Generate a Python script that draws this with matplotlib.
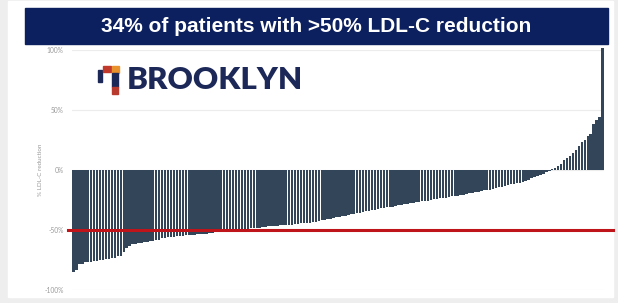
import matplotlib.pyplot as plt
from matplotlib.patches import Rectangle

# % LDL-C change per patient, sorted
ldl_change = [
    -85, -83, -78, -78, -77, -77, -77, -76, -76, -75, -75, -74, -74, -73, -73, -72, -72,
    -68, -65, -63,
    -62, -62, -61, -61, -60, -60, -59, -59,
    -58, -58, -57, -57, -56, -56, -56, -55,
    -55, -55, -54.5, -54.5, -54, -54, -53.5, -53.5, -53, -53, -52.5, -52.5, -52,
    -52, -51.5, -51.5, -51, -51, -50.5, -50.5, -50, -49.5, -49,
    -49, -48.5, -48.5, -48, -48, -47.5, -47.5, -47, -47, -46.5, -46.5, -46, -46,
    -46, -45.5, -45.5, -45, -45, -44.5, -44.5, -44, -44, -43.5,
    -43, -42.5, -42, -41.5, -41, -40.5, -40, -39.5, -39, -38.5, -38, -37.5, -37, -36.5, -36, -35.5,
    -35, -34.5, -34, -33.5, -33, -32.5, -32, -31.5, -31, -30.5, -30.5,
    -30, -29.5, -29, -28.5, -28, -27.5, -27.5, -27, -26.5, -26, -26,
    -25.5, -25, -24.5, -24, -23.5, -23, -23, -22.5, -22, -22, -21.5,
    -21, -20.5, -20, -19.5, -19, -18.5, -18, -17.5, -17, -17, -16.5,
    -16, -15, -14.5, -14, -13, -12.5, -12, -11.5, -11, -10.5, -10,
    -9, -8, -7, -6, -5, -4, -3, -2, -1,
    1, 2, 3, 5, 8, 10, 12, 14, 17, 20, 23, 25, 28, 30, 38, 42, 44, 102,
]
threshold = -50
yticks = [-100, -50, 0, 50, 100]
ytick_labels = ['-100%', '-50%', '0%', '50%', '100%']
title = '34% of patients with >50% LDL-C reduction'

W, H = 618, 303
fig = plt.figure(figsize=(W / 100, H / 100), dpi=100, facecolor='#eeeeee')

def px(x0, y0, x1, y1):
    # pixel box (top-left origin) -> figure fraction rect
    return (x0 / W, 1 - y1 / H, (x1 - x0) / W, (y1 - y0) / H)

# white slide panel
p = px(8, 1, 613, 297)
fig.patches.append(Rectangle(p[:2], p[2], p[3], transform=fig.transFigure,
                             color='white', zorder=-5))

# title banner
b = px(25, 8, 608, 44)
fig.patches.append(Rectangle(b[:2], b[2], b[3], transform=fig.transFigure,
                             color='#0c1f5e', zorder=1))
fig.text(316.5 / W, 1 - 26 / H, title, color='white', fontsize=15,
         fontweight='bold', fontfamily='Liberation Sans', ha='center',
         va='center', zorder=2)

ax = fig.add_axes(px(72, 50, 604, 290), zorder=0)
x = range(len(ldl_change))
ax.bar(x, ldl_change, width=0.82, color='#324559', linewidth=0, clip_on=False, zorder=2)
ax.plot([-1.8, len(ldl_change) + 2.5], [threshold, threshold], color='#c0141b',
        lw=2.2, clip_on=False, zorder=3)

ax.set_xlim(-0.5, len(ldl_change) - 0.5)
ax.set_ylim(-100, 100)
ax.set_yticks(yticks)
ax.set_yticklabels(ytick_labels, fontsize=4.8, color='#9a9a9a', fontfamily='Lato')
ax.set_xticks([])
ax.tick_params(axis='y', length=0, pad=6)
ax.grid(axis='y', color='#ececec', lw=0.8, zorder=0)
ax.set_axisbelow(True)
for s in ax.spines.values():
    s.set_visible(False)
ax.set_facecolor('none')
fig.text(40 / W, 1 - 170 / H, '% LDL-C reduction', rotation=90, fontsize=4.5,
         color='#9a9a9a', ha='center', va='center', fontfamily='Lato')

# Brooklyn logo
navy = '#1c2858'
icon = [
    (98, 70, 102, 82, navy),
    (103, 66, 111, 72, '#c0392b'),
    (112, 66, 119, 73, '#e8912d'),
    (112, 73, 118, 87, navy),
    (112, 87, 118, 94, '#b83a2e'),
]
for x0, y0, x1, y1, c in icon:
    r = px(x0, y0, x1, y1)
    fig.patches.append(Rectangle(r[:2], r[2], r[3], transform=fig.transFigure,
                                 color=c, zorder=4))
fig.text(127 / W, 1 - 80 / H, 'BROOKLYN', fontsize=22.5, fontweight='heavy',
         color=navy, fontfamily='Lato', ha='left', va='center', zorder=4)

fig.savefig('out.png', dpi=100, facecolor=fig.get_facecolor())
